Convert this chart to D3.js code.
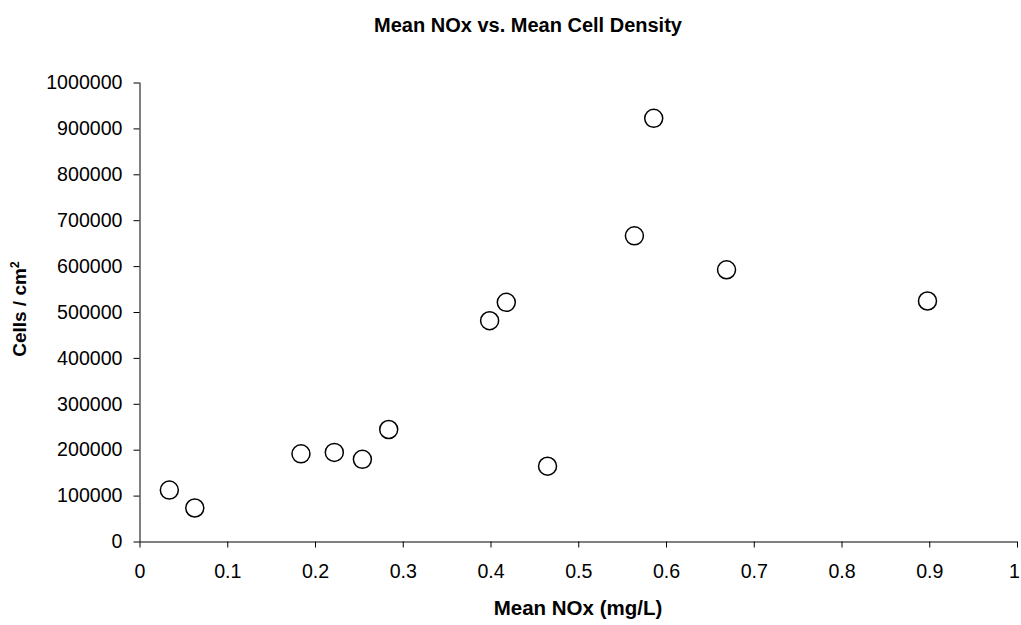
<!DOCTYPE html>
<html><head><meta charset="utf-8">
<script src="https://cdn.jsdelivr.net/npm/d3@7"></script>
<style>body{margin:0;background:#fff}svg{display:block}text{font-family:"Liberation Sans",Arial,sans-serif}</style>
</head><body>
<svg id="c" width="1021" height="625"></svg>
<script>
const noxValues = [0.034, 0.063, 0.184, 0.222, 0.254, 0.284, 0.465, 0.399, 0.418, 0.564, 0.586, 0.669, 0.898];
const cellDensity = [112000, 73000, 191000, 194000, 179000, 244000, 164000, 481000, 521000, 666000, 922000, 592000, 524000];
const xTicks = [0, 0.1, 0.2, 0.3, 0.4, 0.5, 0.6, 0.7, 0.8, 0.9, 1];
const yTicks = [0, 100000, 200000, 300000, 400000, 500000, 600000, 700000, 800000, 900000, 1000000];
const titleText = "Mean NOx vs. Mean Cell Density";
const xLabel = "Mean NOx (mg/L)";

const svg = d3.select("#c");
const L = 139.5, R = 1017, T = 82.5, B = 541.5;
const x = d3.scaleLinear().domain([0, 1]).range([L, R]);
const y = d3.scaleLinear().domain([0, 1000000]).range([B, T]);

const xa = svg.append("g").attr("transform", `translate(0,${B})`)
  .call(d3.axisBottom(x).tickValues(xTicks).tickSize(6).tickPadding(17).tickFormat(d => String(d)));
const ya = svg.append("g").attr("transform", `translate(${L},0)`)
  .call(d3.axisLeft(y).tickValues(yTicks).tickSize(6).tickPadding(11).tickFormat(d => String(d)));
[xa, ya].forEach(g => {
  g.select(".domain").attr("stroke", "#000").attr("stroke-width", 1);
  g.selectAll(".tick line").attr("stroke", "#000");
  g.selectAll(".tick text").attr("fill", "#000").style("font-size", "19.6px").style("font-family", '"Liberation Sans",Arial,sans-serif');
});
xa.selectAll(".tick text").filter(d => d === 1).attr("dx", -3);
xa.select(".domain").attr("d", `M${L},0.5H${R}`);
ya.select(".domain").attr("d", `M0.5,${B}V${T}`);

svg.append("g").selectAll("circle").data(noxValues).join("circle")
  .attr("cx", (d) => x(d)).attr("cy", (d, i) => y(cellDensity[i]))
  .attr("r", 9).attr("fill", "#fff").attr("stroke", "#000").attr("stroke-width", 1.5);

svg.append("text").attr("x", 528).attr("y", 32).attr("text-anchor", "middle")
  .style("font-size", "20px").style("font-weight", "bold").text(titleText);
svg.append("text").attr("x", 578).attr("y", 615).attr("text-anchor", "middle")
  .style("font-size", "20.5px").style("font-weight", "bold").text(xLabel);
const yl = svg.append("text").attr("transform", "translate(26,309) rotate(-90)").attr("text-anchor", "middle")
  .style("font-size", "19px").style("font-weight", "bold");
yl.append("tspan").text("Cells / cm");
yl.append("tspan").attr("dy", -7).style("font-size", "12.5px").text("2");
</script>
</body></html>
